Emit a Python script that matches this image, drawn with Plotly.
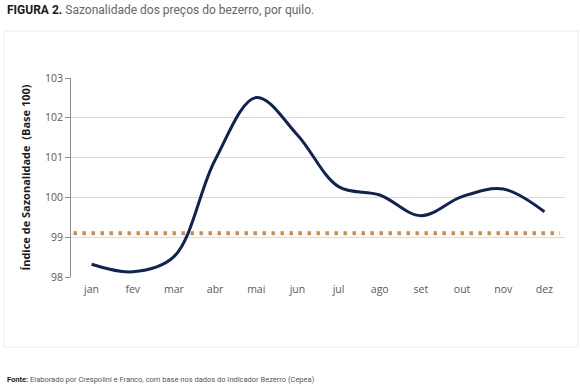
import plotly.graph_objects as go

months = ["jan", "fev", "mar", "abr", "mai", "jun", "jul", "ago", "set", "out", "nov", "dez"]
index_values = [98.32, 98.13, 98.51, 100.94, 102.51, 101.57, 100.27, 100.06, 99.54, 100.02, 100.21, 99.64]
reference_level = 99.1
y_ticks = [98, 99, 100, 101, 102, 103]

fig = go.Figure()

fig.add_trace(go.Scatter(
    x=months, y=index_values, mode="lines",
    line=dict(color="#0F2357", width=3, shape="spline", smoothing=1.0),
    showlegend=False, hoverinfo="skip",
))

fig.add_shape(type="line", xref="paper", yref="y", x0=0.005, x1=0.99,
              y0=reference_level, y1=reference_level,
              line=dict(color="#D58C45", width=4, dash="3.5px,5.5px"))

# light frame around the chart
fig.add_shape(type="rect", xref="paper", yref="paper",
              x0=-67/494, x1=(578-71)/494, y0=(277-347)/199, y1=(277-31)/199,
              line=dict(color="#ececec", width=1), fillcolor="rgba(0,0,0,0)", layer="below")

fig.update_layout(
    width=580, height=390,
    margin=dict(l=71, r=15, t=78, b=113, autoexpand=False),
    paper_bgcolor="white", plot_bgcolor="white",
    font=dict(family="Open Sans", color="#595959", size=10),
    xaxis=dict(type="category", range=[-0.5, 11.5], showgrid=False, showline=False,
               ticks="", tickfont=dict(size=10.5, color="#595959"), ticklabelstandoff=4,
               zeroline=False, fixedrange=True, automargin=False),
    yaxis=dict(range=[98, 103], tickvals=y_ticks, showgrid=True, gridcolor="#d9d9d9",
               gridwidth=1, showline=True, linecolor="#8c8c8c", linewidth=1,
               ticks="outside", ticklen=5, tickcolor="#8c8c8c", automargin=False,
               tickfont=dict(size=10.5, color="#595959"), zeroline=False,
               title=dict(text="<b>Índice de Sazonalidade  (Base 100)</b>",
                          font=dict(size=11, color="#1a1a1a"), standoff=12)),
    annotations=[
        dict(text="<b>FIGURA 2.</b> <span style='color:#666666'>Sazonalidade dos preços do bezerro, por quilo.</span>",
             xref="paper", yref="paper", x=-66/494, y=(277-10)/199, xanchor="left", yanchor="middle",
             showarrow=False, font=dict(family="Roboto", size=12, color="#1a1a1a")),
        dict(text="<b>Fonte:</b> <span style='color:#555555'>Elaborado por Crespolini e Franco, com base nos dados do Indicador Bezerro (Cepea)</span>",
             xref="paper", yref="paper", x=-66/494, y=(277-379)/199, xanchor="left", yanchor="middle",
             showarrow=False, font=dict(family="Roboto", size=7.5, color="#1a1a1a")),
    ],
)

fig.write_html("out.html", config={"displayModeBar": False},
               post_script="document.body.style.margin='0';")
